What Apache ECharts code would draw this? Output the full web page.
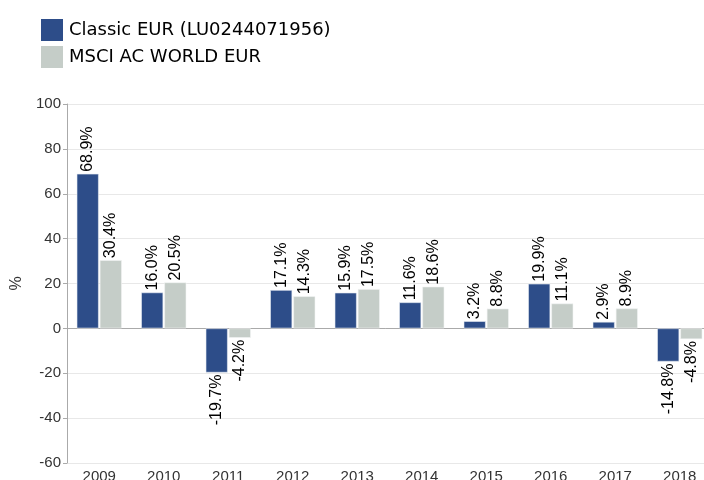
<!DOCTYPE html>
<html><head><meta charset="utf-8">
<script src="https://cdn.jsdelivr.net/npm/echarts@6/dist/echarts.min.js"></script>
<style>html,body{margin:0;padding:0;background:#fff}#c{width:704px;height:480px}</style>
</head><body><div id="c"></div>
<script>
const categories = ['2009','2010','2011','2012','2013','2014','2015','2016','2017','2018'];
const classicEur = [68.9, 16.0, -19.7, 17.1, 15.9, 11.6, 3.2, 19.9, 2.9, -14.8];
const msciAcWorld = [30.4, 20.5, -4.2, 14.3, 17.5, 18.6, 8.8, 11.1, 8.9, -4.8];
const seriesNames = ['Classic EUR (LU0244071956)', 'MSCI AC WORLD EUR'];
const yTicks = {min: -60, max: 100, interval: 20};

function withLabels(arr) {
  return arr.map(v => ({
    value: v,
    label: v >= 0
      ? {position: 'top', align: 'left', verticalAlign: 'middle', distance: 2}
      : {position: 'bottom', align: 'right', verticalAlign: 'middle', distance: 2}
  }));
}
const labelBase = {
  show: true, rotate: 90, fontFamily: 'Liberation Sans, Arial', fontSize: 16, color: '#000',
  formatter: p => p.value.toFixed(1) + '%'
};
const chart = echarts.init(document.getElementById('c'), null, {renderer: 'canvas'});
chart.setOption({
  animation: false,
  legend: {
    orient: 'vertical', left: 41, top: 19, itemWidth: 22, itemHeight: 22, itemGap: 5,
    padding: 0, icon: 'rect',
    itemStyle: {borderWidth: 0},
    textStyle: {fontFamily: 'DejaVu Sans', fontSize: 18, color: '#000', padding: [0, 0, 0, 1]},
    data: seriesNames
  },
  grid: {left: 67, top: 104, bottom: 17, right: -8, containLabel: false, outerBoundsMode: 'none'},
  xAxis: {
    type: 'category', data: categories,
    axisLine: {lineStyle: {color: '#aaa'}},
    axisTick: {show: false},
    axisLabel: {fontFamily: 'Liberation Sans, Arial', fontSize: 15, color: '#333', margin: 6}
  },
  yAxis: {
    type: 'value', min: yTicks.min, max: yTicks.max, interval: yTicks.interval,
    name: '%', nameLocation: 'middle', nameGap: 42, nameRotate: 90,
    nameTextStyle: {fontFamily: 'Liberation Sans, Arial', fontSize: 16, color: '#333'},
    axisLine: {show: true, lineStyle: {color: '#aaa'}},
    axisTick: {show: true, length: 4, lineStyle: {color: '#aaa'}},
    splitLine: {lineStyle: {color: '#e8e8e8'}},
    axisLabel: {fontFamily: 'Liberation Sans, Arial', fontSize: 15, color: '#333', margin: 6}
  },
  series: [
    {name: seriesNames[0], type: 'bar', data: withLabels(classicEur), barWidth: 22, barGap: '5%',
     itemStyle: {color: '#2d4d89', borderColor: '#e8ecf4', borderWidth: 0.6}, label: labelBase},
    {name: seriesNames[1], type: 'bar', data: withLabels(msciAcWorld), barWidth: 22,
     itemStyle: {color: '#c5cdc8', borderColor: '#f2f4f3', borderWidth: 0.6}, label: labelBase}
  ]
});
</script></body></html>
